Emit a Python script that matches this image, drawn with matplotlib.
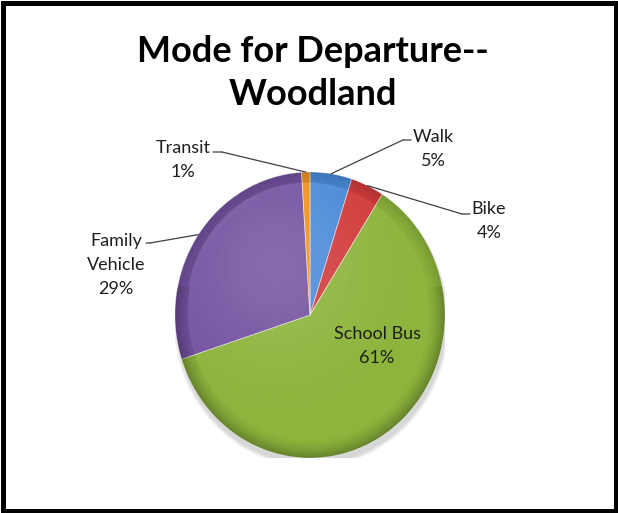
import numpy as np
import matplotlib
matplotlib.use("Agg")
import matplotlib.pyplot as plt
from matplotlib.patches import Rectangle, Circle, Ellipse

# mode share, clockwise from 12 o'clock
modes = ["Walk", "Bike", "School Bus", "Family\nVehicle", "Transit"]
shares = [5, 4, 61, 29, 1]
colors = ["#4A8AD8", "#D13B3B", "#8DB43C", "#7352A0", "#F0911F"]

W, H = 618, 513
fig = plt.figure(figsize=(W / 100, H / 100), dpi=100)
fig.patch.set_facecolor("white")

# pie centre (310, 315) px from top-left, radii 135 x 143 px
cx, cy, rx, ry = 310, 315, 135, 143
ax = fig.add_axes([(cx - rx) / W, (H - cy - ry) / H, 2 * rx / W, 2 * ry / H])

# soft shadow under the pie
for k, a in enumerate([0.05, 0.05, 0.06]):
    ax.add_patch(Ellipse((0.01, -0.045), 1.98 + 0.02 * (3 - k), 1.98 + 0.02 * (3 - k),
                         color="black", alpha=a, lw=0, zorder=0))

wedges, _ = ax.pie(shares, colors=colors, startangle=90, counterclock=False,
                   radius=1.0, wedgeprops=dict(linewidth=0.6))
for w in wedges:
    w.set_edgecolor((1, 1, 1, 0.55))
    w.set_zorder(2)

# bevel-like shading over the whole disc
n = 400
xs = np.linspace(-1, 1, n)
X, Y = np.meshgrid(xs, xs)
R = np.hypot(X, Y)
shade = np.zeros((n, n, 4))
rim = np.clip((R - 0.87) / 0.13, 0, 1) ** 1.6
glow = np.exp(-((X + 0.25) ** 2 + (Y - 0.35) ** 2) / 0.45)
dark = 0.28 * rim * (0.55 + 0.45 * (Y < 0.2))
light = 0.14 * glow * (1 - rim)
alpha = dark + light
shade[..., :3] = np.where((dark > light)[..., None], 0.0, 1.0)
shade[..., 3] = np.clip(alpha, 0, 1)
im = ax.imshow(shade, extent=(-1, 1, -1, 1), origin="lower", zorder=3,
               interpolation="bilinear")
im.set_clip_path(Circle((0, 0), 1.0, transform=ax.transData))

ax.set_xlim(-1.0, 1.0)
ax.set_ylim(-1.0, 1.0)
ax.set_aspect("auto")
ax.axis("off")

font = "Lato"
txt_color = "#1e1e1e"
line_color = "#404040"


def mid_point(i):
    w = wedges[i]
    th = np.deg2rad((w.theta1 + w.theta2) / 2)
    return np.cos(th), np.sin(th)


def px(x, y):
    # top-left pixel position -> figure pixels
    return x, H - y


# outside labels: (index, text centre, elbow, end of short horizontal stub)
outside = [
    (0, (433, 149), (403, 140), (411, 140)),
    (1, (489, 221), (462, 214), (470, 214)),
    (4, (183, 160), (222, 152), (213, 152)),
    (3, (116, 265), (150, 243), (146, 243)),
]
for i, tpos, elbow, stub in outside:
    ax.annotate("", xy=mid_point(i), xycoords="data",
                xytext=px(*elbow), textcoords="figure pixels",
                arrowprops=dict(arrowstyle="-", color=line_color, lw=0.9,
                                shrinkA=0, shrinkB=0), zorder=5)
    ax.annotate("", xy=px(*elbow), xycoords="figure pixels",
                xytext=px(*stub), textcoords="figure pixels",
                arrowprops=dict(arrowstyle="-", color=line_color, lw=0.9,
                                shrinkA=0, shrinkB=0), zorder=5)
    fig.text(tpos[0] / W, 1 - tpos[1] / H, f"{modes[i]}\n{shares[i]}%",
             ha="center", va="center", fontsize=13, family=font,
             color=txt_color, linespacing=1.58)

# inside label for the big slice
fig.text(377 / W, 1 - 346 / H, f"{modes[2]}\n{shares[2]}%", ha="center",
         va="center", fontsize=13, family=font, color=txt_color, linespacing=1.58)

fig.text(313 / W, 1 - 73 / H, "Mode for Departure--\nWoodland", ha="center",
         va="center", fontsize=26, fontweight="bold", family=font,
         color="black", linespacing=1.38)

# heavy black frame
fig.add_artist(Rectangle((2.5 / W, 2.5 / H), 1 - 5 / W, 1 - 5 / H,
                         transform=fig.transFigure, fill=False,
                         edgecolor="black", lw=3.6))

fig.savefig("out.png", dpi=100, facecolor="white")
